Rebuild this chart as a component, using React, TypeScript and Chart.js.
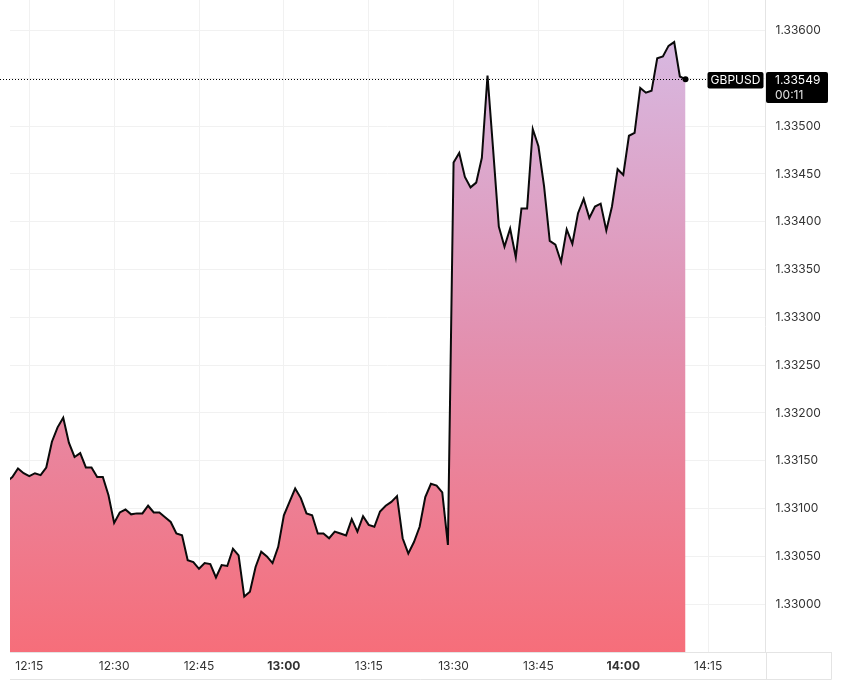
import React, { useEffect, useRef } from 'react';
import { Chart, registerables } from 'chart.js';
Chart.register(...registerables);

// minutes after 12:00 of the first sample (12:11), one sample per minute
const START_MINUTE = 11;
const prices = [
  1.33128,
  1.33133, 1.33142, 1.33137, 1.33134, 1.33137, 1.33135, 1.33143, 1.33170, 1.33185, 1.33195,
  1.33169, 1.33154, 1.33158, 1.33143, 1.33143, 1.33133, 1.33133, 1.33114, 1.33085, 1.33096,
  1.33099, 1.33094, 1.33095, 1.33095, 1.33103, 1.33096, 1.33096, 1.33091, 1.33086, 1.33074,
  1.33072, 1.33046, 1.33044, 1.33037, 1.33043, 1.33042, 1.33028, 1.33041, 1.33040,
  1.33058, 1.33051, 1.33008, 1.33013, 1.33039, 1.33055, 1.33050, 1.33043, 1.33060, 1.33093,
  1.33107, 1.33121, 1.33111, 1.33095, 1.33093, 1.33074, 1.33074, 1.33069, 1.33076, 1.33074, 1.33072,
  1.33089, 1.33076, 1.33092, 1.33083, 1.33081, 1.33097, 1.33103, 1.33107, 1.33113, 1.33069,
  1.33053, 1.33065, 1.33081, 1.33112, 1.33126, 1.33124, 1.33117, 1.33062,
  1.33462, 1.33472, 1.33447, 1.33436, 1.33441, 1.33467, 1.33553, 1.33475, 1.33395, 1.33374,
  1.33393, 1.33363, 1.33414, 1.33414, 1.33497, 1.33479, 1.33437, 1.33380, 1.33376, 1.33358,
  1.33392, 1.33377, 1.33409, 1.33424, 1.33404, 1.33416, 1.33419, 1.33391, 1.33416, 1.33455,
  1.33449, 1.33490, 1.33493, 1.33540, 1.33535, 1.33537, 1.33571, 1.33573, 1.33584, 1.33588,
  1.33552, 1.33549,
];

const xTickMinutes = [15, 30, 45, 60, 75, 90, 105, 120, 135];
const xTickLabels = ['12:15', '12:30', '12:45', '13:00', '13:15', '13:30', '13:45', '14:00', '14:15'];
const boldTickLabels = ['13:00', '14:00'];
const yTickValues = [1.33, 1.3305, 1.331, 1.3315, 1.332, 1.3325, 1.333, 1.3335, 1.334, 1.3345, 1.335, 1.3355, 1.336];
const X_MIN = 11.59;
const X_MAX = 145.14;
const Y_MIN = 1.3295;
const Y_MAX = 1.33632;
const SYMBOL = 'GBPUSD';
const COUNTDOWN = '00:11';
const FONT = 'Inter, "Noto Sans", sans-serif';

export default function App() {
  const ref = useRef<HTMLCanvasElement>(null);

  useEffect(() => {
    const canvas = ref.current;
    if (!canvas) return;
    const points = prices.map((p, i) => ({ x: START_MINUTE + i, y: p }));

    const overlay = {
      id: 'overlay',
      afterDraw(chart: any) {
        const c = chart.ctx;
        const area = chart.chartArea;
        const meta = chart.getDatasetMeta(0);
        const last = meta.data[meta.data.length - 1];
        const lx = last.x;
        const ly = Math.round(last.y) + 0.5;
        c.save();
        // frame lines around axis areas
        c.strokeStyle = '#e4e4e4';
        c.lineWidth = 1;
        c.beginPath();
        c.moveTo(area.left, 679.5);
        c.lineTo(831.5, 679.5);
        c.moveTo(831.5, area.bottom);
        c.lineTo(831.5, 679.5);
        c.moveTo(Math.round(area.right) + 0.5, area.bottom);
        c.lineTo(Math.round(area.right) + 0.5, 679.5);
        c.moveTo(area.right, Math.round(area.bottom) + 0.5);
        c.lineTo(831.5, Math.round(area.bottom) + 0.5);
        c.stroke();

        // dotted price line
        const tagLeft = area.right - 58;
        c.strokeStyle = '#000';
        c.setLineDash([1, 2]);
        c.beginPath();
        c.moveTo(0, ly);
        c.lineTo(tagLeft, ly);
        c.stroke();
        c.setLineDash([]);

        // last point marker
        c.fillStyle = '#000';
        c.beginPath();
        c.arc(lx, last.y, 3, 0, Math.PI * 2);
        c.fill();

        // symbol tag
        const top = ly - 7.5;
        c.fillStyle = '#000';
        c.beginPath();
        (c as any).roundRect(tagLeft, top, 56, 16.5, 2);
        c.fill();
        c.font = `12px ${FONT}`;
        c.fillStyle = '#fff';
        c.textAlign = 'center';
        c.textBaseline = 'middle';
        c.fillText(SYMBOL, tagLeft + 28, top + 8.5);

        // price box
        const bx = area.right + 0.5;
        c.fillStyle = '#000';
        c.beginPath();
        (c as any).roundRect(bx, top, 62, 31, 2);
        c.fill();
        c.textAlign = 'left';
        c.fillStyle = '#fff';
        c.fillText(prices[prices.length - 1].toFixed(5), bx + 9, top + 8.5);
        c.fillStyle = '#e0e0e0';
        c.fillText(COUNTDOWN, bx + 9, top + 23);
        c.restore();
      },
    };

    const chart = new Chart(canvas, {
      type: 'line',
      data: {
        datasets: [
          {
            data: points,
            borderColor: '#0a0a0a',
            borderWidth: 2,
            pointRadius: 0,
            tension: 0,
            fill: 'start',
            backgroundColor: (ctx: any) => {
              const { chart: ch } = ctx;
              const area = ch.chartArea;
              if (!area) return 'rgba(0,0,0,0)';
              const g = ch.ctx.createLinearGradient(0, area.top, 0, area.bottom);
              g.addColorStop(0, 'rgb(214,190,232)');
              g.addColorStop(0.5, 'rgb(226,146,178)');
              g.addColorStop(1, 'rgb(246,110,122)');
              return g;
            },
          },
        ],
      },
      options: {
        responsive: false,
        animation: false,
        devicePixelRatio: 1,
        layout: { padding: { left: 10, top: 0, right: 0, bottom: 0 } },
        plugins: { legend: { display: false }, tooltip: { enabled: false } },
        scales: {
          x: {
            type: 'linear',
            min: X_MIN,
            max: X_MAX,
            afterBuildTicks: (s: any) => {
              s.ticks = xTickMinutes.map((v) => ({ value: v }));
            },
            afterFit: (s: any) => {
              s.height = 45;
              s.paddingLeft = 0;
              s.paddingRight = 0;
            },
            grid: { color: '#f1f1f1', drawTicks: false },
            border: { display: true, color: '#e4e4e4' },
            ticks: {
              padding: 7,
              color: '#333',
              maxRotation: 0,
              autoSkip: false,
              callback: (v: any) => xTickLabels[xTickMinutes.indexOf(Number(v))] ?? '',
              font: (ctx: any) => ({
                family: FONT,
                size: 12,
                weight: ctx.tick && boldTickLabels.includes(ctx.tick.label) ? 'bold' : 'normal',
              }),
            },
          },
          y: {
            type: 'linear',
            position: 'right',
            min: Y_MIN,
            max: Y_MAX,
            afterBuildTicks: (s: any) => {
              s.ticks = yTickValues.map((v) => ({ value: v }));
            },
            afterFit: (s: any) => {
              s.width = 77.5;
              s.paddingTop = 0;
              s.paddingBottom = 0;
            },
            grid: { color: '#f1f1f1', drawTicks: false },
            border: { display: true, color: '#e4e4e4' },
            ticks: {
              padding: 10,
              color: '#333',
              callback: (v: any) => Number(v).toFixed(5),
              font: { family: FONT, size: 12 },
            },
          },
        },
      },
      plugins: [overlay],
    } as any);

    return () => chart.destroy();
  }, []);

  return (
    <div style={{ position: 'absolute', left: 0, top: 0, width: 843, height: 697, background: '#fff' }}>
      <canvas ref={ref} width={843} height={697} style={{ display: 'block', width: 843, height: 697 }} />
    </div>
  );
}
